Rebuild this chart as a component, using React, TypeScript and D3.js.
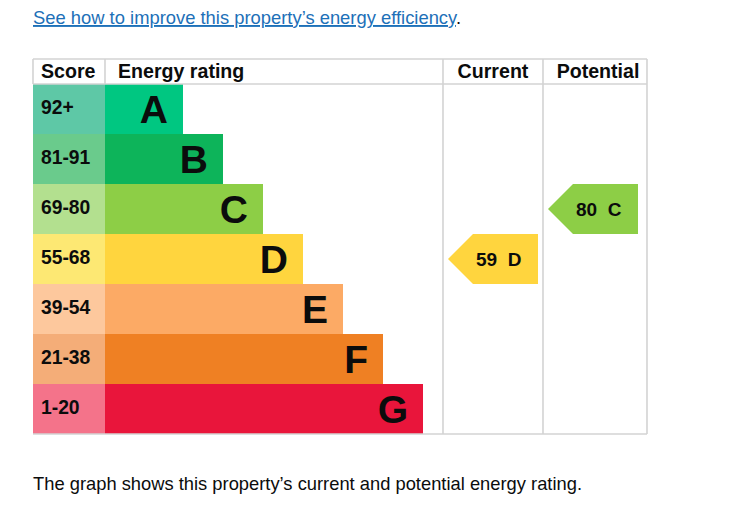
import React from "react";
import * as d3 from "d3";

const bands = ["A", "B", "C", "D", "E", "F", "G"];
const scoreRanges = ["92+", "81-91", "69-80", "55-68", "39-54", "21-38", "1-20"];
const bandMinScores = [92, 81, 69, 55, 39, 21, 1];
const barColors = ["#00c781", "#0db45a", "#8dce46", "#ffd53e", "#fcaa65", "#ef8023", "#e9153b"];
const scoreColors = ["#5ec8a6", "#6acb8c", "#b3e08f", "#fde873", "#fdc89d", "#f4ad78", "#f4738a"];
const headers = ["Score", "Energy rating", "Current", "Potential"];
const currentScore = 59;
const potentialScore = 80;
const linkText = "See how to improve this property\u2019s energy efficiency";
const footText = "The graph shows this property\u2019s current and potential energy rating.";

const W = 749;
const H = 517;
const tableLeft = 33;
const tableRight = 647;
const tableTop = 59;
const headerBottom = 84;
const tableBottom = 434;
const scoreColRight = 105;
const ratingColRight = 443;
const currentColRight = 543;
const gridColor = "#d3d3d3";
const font = "'Liberation Sans', Arial, Helvetica, sans-serif";

function bandForScore(s: number) {
  return bands[bandMinScores.findIndex((m) => s >= m)];
}

export default function App() {
  const y = d3.scaleBand<string>().domain(bands).range([headerBottom, tableBottom]).padding(0);
  const barW = d3.scaleLinear().domain([0, bands.length - 1]).range([78, 318]);
  const rowH = y.bandwidth();

  const arrow = (score: number, colLeft: number, key: string) => {
    const b = bandForScore(score);
    const i = bands.indexOf(b);
    const top = y(b)!;
    const tip = colLeft + 5;
    const notch = tip + rowH / 2;
    const right = tip + 90;
    const path = d3.path();
    path.moveTo(tip, top + rowH / 2);
    path.lineTo(notch, top);
    path.lineTo(right, top);
    path.lineTo(right, top + rowH);
    path.lineTo(notch, top + rowH);
    path.closePath();
    return (
      <g key={key}>
        <path d={path.toString()} fill={barColors[i]} />
        <text
          x={tip + 28}
          y={top + rowH / 2}
          dy="0.36em"
          fontFamily={font}
          fontWeight="bold"
          fontSize={19}
          fill="#0b0c0c"
          style={{ whiteSpace: "pre" }}
        >
          {`${score}  ${b}`}
        </text>
      </g>
    );
  };

  return (
    <svg
      width={W}
      height={H}
      style={{ position: "absolute", left: 0, top: 0, background: "#fff" }}
    >
      {/* link */}
      <text x={33} y={24} fontFamily={font} fontSize={19} fill="#0b0c0c"
        textLength={428} lengthAdjust="spacingAndGlyphs">
        <tspan fill="#1d70b8" textDecoration="underline">{linkText}</tspan>
        <tspan>.</tspan>
      </text>

      {/* rows */}
      {bands.map((b, i) => (
        <g key={b}>
          <rect x={tableLeft} y={y(b)!} width={scoreColRight - tableLeft} height={rowH} fill={scoreColors[i]} />
          <rect x={scoreColRight} y={y(b)!} width={barW(i)} height={rowH} fill={barColors[i]} />
          <text x={41} y={y(b)! + rowH / 2 - 2} dy="0.36em" fontFamily={font} fontWeight="bold" fontSize={19.3} fill="#0b0c0c">
            {scoreRanges[i]}
          </text>
          <text x={scoreColRight + barW(i) - 15} y={y(b)! + rowH / 2} dy="0.36em" textAnchor="end"
            fontFamily={font} fontWeight="bold" fontSize={39} fill="#0b0c0c">
            {b}
          </text>
        </g>
      ))}

      {/* grid */}
      <g stroke={gridColor} strokeWidth={1.6} fill="none">
        <line x1={tableLeft} x2={tableRight} y1={tableTop} y2={tableTop} />
        <line x1={tableLeft} x2={tableRight} y1={headerBottom} y2={headerBottom} />
        <line x1={tableLeft} x2={tableRight} y1={tableBottom} y2={tableBottom} />
        <line x1={tableLeft} x2={tableLeft} y1={tableTop} y2={headerBottom} />
        <line x1={scoreColRight} x2={scoreColRight} y1={tableTop} y2={headerBottom} />
        <line x1={ratingColRight} x2={ratingColRight} y1={tableTop} y2={tableBottom} />
        <line x1={currentColRight} x2={currentColRight} y1={tableTop} y2={tableBottom} />
        <line x1={tableRight} x2={tableRight} y1={tableTop} y2={tableBottom} />
      </g>

      {/* headers */}
      <g fontFamily={font} fontWeight="bold" fontSize={19.6} fill="#0b0c0c">
        <text x={41} y={78}>{headers[0]}</text>
        <text x={118} y={78}>{headers[1]}</text>
        <text x={493} y={78} textAnchor="middle">{headers[2]}</text>
        <text x={598} y={78} textAnchor="middle">{headers[3]}</text>
      </g>

      {arrow(currentScore, ratingColRight, "cur")}
      {arrow(potentialScore, currentColRight, "pot")}

      <text x={33} y={490} fontFamily={font} fontSize={19} fill="#0b0c0c" textLength={549} lengthAdjust="spacingAndGlyphs">
        {footText}
      </text>
    </svg>
  );
}
